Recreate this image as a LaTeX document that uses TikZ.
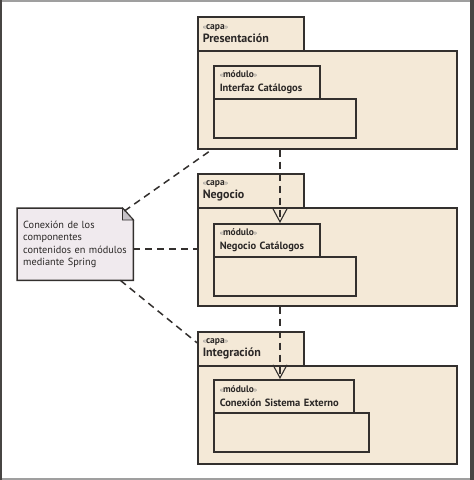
\documentclass[tikz,border=0pt]{standalone}
\usepackage{fontspec}
\setmainfont{PT Sans}
\usetikzlibrary{arrows.meta,backgrounds}
\definecolor{fondo}{HTML}{F4E9D7}
\definecolor{linea}{HTML}{33302E}
\definecolor{notafondo}{HTML}{F0EAEE}
\definecolor{pliegue}{HTML}{C6C2C7}
\definecolor{texto}{HTML}{2A2726}
\newcommand\estereo[1]{{\fontsize{7}{8}\selectfont\color{gray}<<}{\fontsize{9.5}{10}\selectfont\bfseries #1}{\fontsize{7}{8}\selectfont\color{gray}>>}}
\begin{document}
\begin{tikzpicture}[x=1pt,y=-1pt,
  caja/.style={draw=linea,fill=fondo,line width=1.5pt,inner sep=0pt,anchor=north west},
  dep/.style={draw=linea,line width=1.5pt,dash pattern=on 7pt off 5pt},
  flecha/.style={-{Straight Barb[length=13pt,width=14pt,line width=1.1pt]}}]
\useasboundingbox (0,0) rectangle (474,480);
\fill[gray!75] (0,0) rectangle (474,2);
\fill[gray!75] (0,478) rectangle (474,480);
\fill[linea!90] (0,0) rectangle (2,480);
\fill[linea!90] (470,0) rectangle (474,480);
\newcommand\capa[3]{
\node[caja,minimum width=259,minimum height=98] (#1) at (197,#3+34) {};
\node[caja,minimum height=34,text width=96,inner xsep=5pt,align=left,
  font=\fontsize{12}{13}\selectfont,text=texto] (#1tab) at (197,#3)
  {\estereo{capa}\\\textbf{#2}};
}
\newcommand\modulo[5]{
\node[caja,minimum width=#5,minimum height=39] (#1) at (213,#3+33) {};
\node[caja,minimum height=33,text width=#4-12,inner xsep=6pt,align=left,
  font=\fontsize{10.5}{13.5}\selectfont,text=texto] (#1tab) at (213,#3)
  {\estereo{módulo}\\\textbf{#2}};
}
\capa{presentacion}{Presentación}{16}
\modulo{interfaz}{Interfaz Catálogos}{65}{106}{142}
\capa{negocio}{Negocio}{173}
\modulo{negcat}{Negocio Catálogos}{223}{106}{142}
\capa{integracion}{Integración}{331}
\modulo{conexion}{Conexión Sistema Externo}{379}{140}{155}
\node[anchor=north west,minimum width=116,minimum height=72,inner xsep=6pt,inner ysep=0pt,
  text width=104,align=left,font=\fontsize{10.3}{12.5}\selectfont,text=texto]
  (nota) at (17,208)
  {Conexión de los\\componentes\\contenidos en módulos\\mediante Spring};
\begin{scope}[on background layer]
\path[draw=linea,fill=notafondo,line width=1.5pt] (nota.north west) -- ([xshift=-11pt]nota.north east)
  -- ([yshift=-12pt]nota.north east) -- (nota.south east) -- (nota.south west) -- cycle;
\path[draw=linea,fill=pliegue,line width=0.8pt] ([xshift=-11pt]nota.north east)
  -- ([xshift=-11pt,yshift=-12pt]nota.north east) -- ([yshift=-12pt]nota.north east) -- cycle;
\end{scope}
\draw[dep] ([xshift=-9pt,yshift=-3pt]nota.north east) -- ([xshift=15pt]presentacion.south west);
\draw[dep] ([yshift=-5pt]nota.east) -- ([yshift=-5pt]nota.east -| negocio.west);
\draw[dep] ([xshift=-13pt]nota.south east) -- ([yshift=6pt]integraciontab.west);
\draw[dep,flecha] ([xshift=83pt]presentacion.south west) -- ([xshift=67pt]negcattab.north west);
\draw[dep,flecha] ([xshift=83pt]negocio.south west) -- ([xshift=67pt]conexiontab.north west);
\end{tikzpicture}
\end{document}
